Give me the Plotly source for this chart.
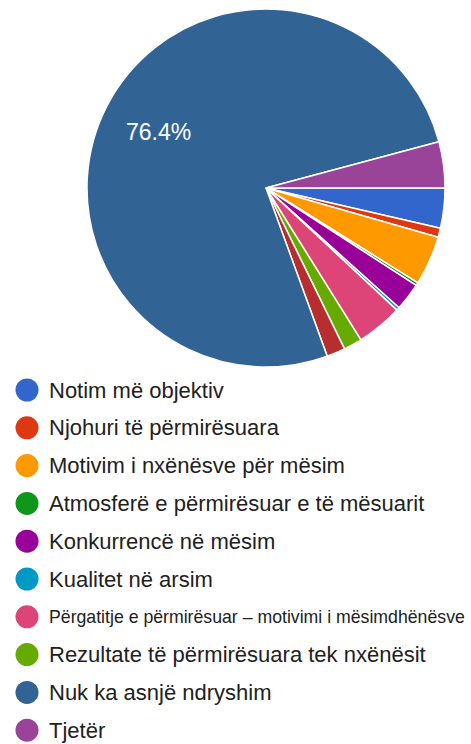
import math
import plotly.graph_objects as go

W, H = 471, 744

labels = [
    "Notim më objektiv",
    "Njohuri të përmirësuara",
    "Motivim i nxënësve për mësim",
    "Atmosferë e përmirësuar e të mësuarit",
    "Konkurrencë në mësim",
    "Kualitet në arsim",
    "Përgatitje e përmirësuar – motivimi i mësimdhënësve",
    "Rezultate të përmirësuara tek nxënësit",
    "Përgjigje tjetër",
    "Nuk ka asnjë ndryshim",
    "Tjetër",
]
values = [13, 3, 16, 1, 9, 1, 15, 6, 6, 275, 15]
colors = ["#3366cc", "#dc3912", "#ff9900", "#109618", "#990099", "#0099c6",
          "#dd4477", "#66aa00", "#b82e2e", "#316395", "#994499"]
in_legend = [True, True, True, True, True, True, True, True, False, True, True]
label_size = [22, 22, 22, 22, 22, 22, 17.7, 22, 22, 22, 22]

FONT = "Liberation Sans, Arial, sans-serif"

total = sum(values)

cx, cy, r = 266, 188, 179
fig = go.Figure()
fig.add_trace(go.Pie(
    labels=labels, values=values, sort=False, direction="clockwise", rotation=90,
    marker=dict(colors=colors, line=dict(color="white", width=1.5)),
    textinfo="none",
    domain=dict(x=[(cx - r) / W, (cx + r) / W], y=[1 - (cy + r) / H, 1 - (cy - r) / H]),
    showlegend=False, hoverinfo="label+percent",
))

# percentage label on the big slice (placed at its mid-angle, like the source chart)
cum = 0
for v in values:
    frac = v / total
    if frac > 0.3:
        mid = (cum + v / 2) / total * 2 * math.pi
        rr = 0.675 * r
        fig.add_annotation(
            x=cx + rr * math.cos(mid), y=cy + rr * math.sin(mid), xref="x", yref="y",
            text=f"{frac * 100:.1f}%", showarrow=False, xanchor="center", yanchor="middle",
            font=dict(family=FONT, size=23, color="white"),
        )
    cum += v

# custom legend
leg = [(l, c, s) for l, c, s, show in zip(labels, colors, label_size, in_legend) if show]
y0, dy = 390, 37.8
ys = [y0 + i * dy for i in range(len(leg))]
fig.add_trace(go.Scatter(
    x=[27] * len(leg), y=ys, mode="markers",
    marker=dict(size=23, color=[c for _, c, _ in leg], line=dict(width=0)),
    showlegend=False, hoverinfo="skip",
))
for (lab, _, sz), yy in zip(leg, ys):
    fig.add_annotation(
        x=47, y=yy, xref="x", yref="y", text=lab, showarrow=False,
        xanchor="left", yanchor="middle",
        font=dict(family=FONT, size=sz, color="#212121"),
    )

fig.update_layout(
    width=W, height=H, margin=dict(l=0, r=0, t=0, b=0),
    paper_bgcolor="white", plot_bgcolor="white",
    xaxis=dict(range=[0, W], visible=False, domain=[0, 1], fixedrange=True),
    yaxis=dict(range=[H, 0], visible=False, domain=[0, 1], fixedrange=True),
    showlegend=False,
)
fig.write_html(
    "out.html",
    config={"displayModeBar": False},
    post_script="document.body.style.margin='0';document.body.style.overflow='hidden';",
)
